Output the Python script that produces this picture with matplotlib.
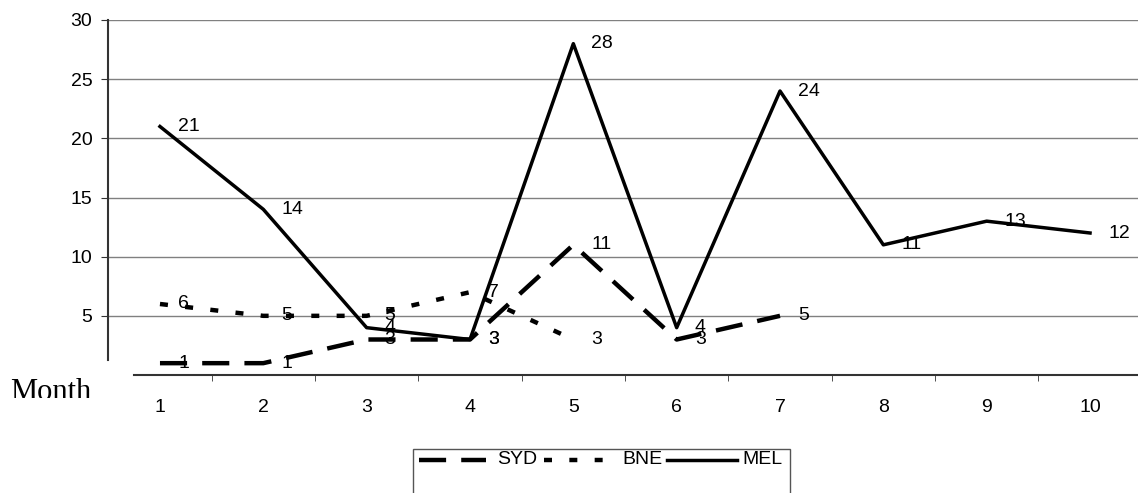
import matplotlib.pyplot as plt
import numpy as np
from matplotlib.lines import Line2D
from matplotlib.patches import Rectangle
from matplotlib.transforms import Bbox

# data
months = [1, 2, 3, 4, 5, 6, 7, 8, 9, 10]
syd = [1, 1, 3, 3, 11, 3, 5]
bne = [6, 5, 5, 7, 3]
mel = [21, 14, 4, 3, 28, 4, 24, 11, 13, 12]
names = ['SYD', 'BNE', 'MEL']

plt.rcParams['font.family'] = ['Liberation Sans', 'DejaVu Sans']

W, H = 1138, 493
styles = {
    'SYD': dict(lw=3.2, ls=(0, (6.1, 3.4))),
    'BNE': dict(lw=3.2, ls=(0, (1.8, 3.9))),
    'MEL': dict(lw=2.5, ls='-'),
}
axis_col = '#333333'

fig = plt.figure(figsize=(W / 100, H / 100), dpi=100)
ax = fig.add_axes([108.3 / W, 118 / H, 1033.4 / W, 355 / H])

for name, vals in zip(names, [syd, bne, mel]):
    x = months[:len(vals)]
    ax.plot(x, vals, color='black', dash_capstyle='butt', **styles[name])
    for xi, yi in zip(x, vals):
        ax.annotate(str(yi), (xi, yi), xytext=(13, 0), textcoords='offset points',
                    va='center', ha='left', fontsize=14, annotation_clip=False)

ax.set_xlim(0.5, 10.5)
ax.set_ylim(0, 30)
ax.set_yticks(range(5, 31, 5))
ax.yaxis.grid(True, color='#808080', lw=1)
ax.set_axisbelow(True)
ax.spines[['top', 'right']].set_visible(False)
for s in ['left', 'bottom']:
    ax.spines[s].set_color(axis_col)
    ax.spines[s].set_linewidth(1.5)
ax.spines['left'].set_bounds(1.27, 30)
ax.spines['bottom'].set_bounds(0.75, 10.5)
ax.set_xticks(months)
ax.set_xticks(np.arange(1.5, 10, 1), minor=True)
ax.tick_params(axis='x', which='major', length=0, pad=17, labelsize=14)
ax.tick_params(axis='x', which='minor', length=4.5, direction='out', color=axis_col)
ax.tick_params(axis='y', length=5, pad=6.5, labelsize=14, color=axis_col)

# clipped axis title at the left
t = fig.text(10 / W, (H - 400) / H, 'Month', fontsize=22, family='Liberation Serif',
             va='baseline', ha='left')
t.set_clip_box(Bbox([[0, H - 398], [200, H]]))
t.set_clip_on(True)

# legend box, cut off by the bottom edge
fig.add_artist(Rectangle((413 / W, -0.05), (790 - 413) / W, 0.05 + (H - 449) / H,
                         transform=fig.transFigure, fill=False, ec='#555555', lw=1))
ly = (H - 460) / H
handles = {'SYD': (419, 486, 497), 'BNE': (544, 620, 622), 'MEL': (667, 737, 742)}
for name in names:
    x0, x1, tx = handles[name]
    fig.add_artist(Line2D([x0 / W, x1 / W], [ly, ly], transform=fig.transFigure,
                          color='black', dash_capstyle='butt', **styles[name]))
    fig.text(tx / W, ly, name, fontsize=14, va='center', ha='left')

fig.savefig('out.png', dpi=100)
